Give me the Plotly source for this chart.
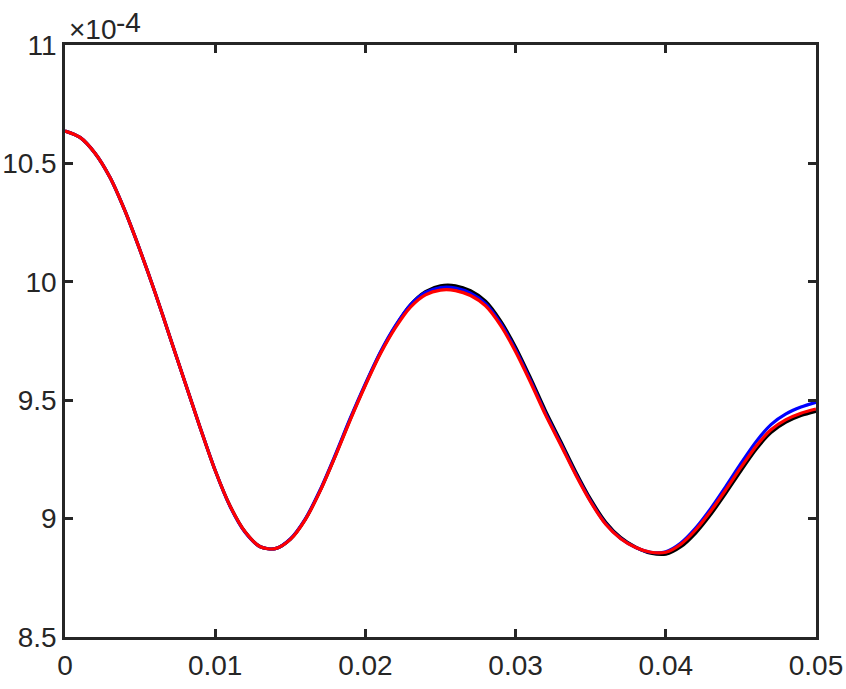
import plotly.graph_objects as go

# values are in units of 1e-4 (axis shows a x10^-4 multiplier)
x_vals = [i / 1000 for i in range(51)]  # 0 .. 0.05 step 0.001

black_vals = [10.637, 10.610, 10.543, 10.440, 10.298, 10.132, 9.954, 9.764, 9.574, 9.384,
              9.203, 9.052, 8.943, 8.881, 8.873, 8.913, 8.997, 9.120, 9.266, 9.421,
              9.566, 9.700, 9.812, 9.903, 9.959, 9.983, 9.983, 9.962, 9.918, 9.835,
              9.724, 9.593, 9.454, 9.327, 9.198, 9.081, 8.985, 8.920, 8.879, 8.854,
              8.850, 8.881, 8.940, 9.018, 9.108, 9.202, 9.292, 9.363, 9.407, 9.435,
              9.453]

blue_vals = [10.637, 10.610, 10.543, 10.440, 10.298, 10.132, 9.954, 9.764, 9.574, 9.384,
             9.203, 9.050, 8.941, 8.881, 8.873, 8.914, 8.999, 9.123, 9.270, 9.425,
             9.570, 9.704, 9.815, 9.903, 9.955, 9.976, 9.974, 9.952, 9.908, 9.825,
             9.713, 9.582, 9.443, 9.317, 9.189, 9.073, 8.978, 8.916, 8.878, 8.858,
             8.860, 8.897, 8.961, 9.043, 9.136, 9.233, 9.324, 9.397, 9.442, 9.471,
             9.491]

red_vals = [10.637, 10.610, 10.543, 10.440, 10.298, 10.132, 9.954, 9.764, 9.574, 9.384,
            9.203, 9.052, 8.943, 8.881, 8.873, 8.912, 8.996, 9.118, 9.264, 9.418,
            9.563, 9.696, 9.806, 9.893, 9.945, 9.965, 9.963, 9.942, 9.898, 9.816,
            9.705, 9.575, 9.437, 9.312, 9.185, 9.070, 8.976, 8.915, 8.878, 8.858,
            8.858, 8.892, 8.953, 9.032, 9.122, 9.216, 9.305, 9.375, 9.418, 9.445,
            9.463]

x_ticks = [0, 0.01, 0.02, 0.03, 0.04, 0.05]
x_labels = ["0", "0.01", "0.02", "0.03", "0.04", "0.05"]
y_ticks = [8.5, 9, 9.5, 10, 10.5, 11]
y_labels = ["8.5", "9", "9.5", "10", "10.5", "11"]

axis_color = "#262626"
font_family = "Liberation Sans, Arial, sans-serif"

fig = go.Figure()
for vals, color in [(black_vals, "#000000"), (blue_vals, "#0000ff"), (red_vals, "#ff0000")]:
    fig.add_trace(
        go.Scatter(
            x=x_vals,
            y=vals,
            mode="lines",
            line=dict(color=color, width=3.2, shape="spline", smoothing=0.8),
            showlegend=False,
        )
    )

axis_common = dict(
    showline=True,
    linecolor=axis_color,
    linewidth=2.5,
    mirror="ticks",
    ticks="inside",
    ticklen=8,
    tickwidth=2.5,
    tickcolor=axis_color,
    showgrid=False,
    zeroline=False,
    automargin=False,
    tickfont=dict(size=28, color=axis_color, family=font_family),
)

fig.update_xaxes(range=[0, 0.05], tickvals=x_ticks, ticktext=x_labels,
                 ticklabelstandoff=2, **axis_common)
fig.update_yaxes(range=[8.5, 11], tickvals=y_ticks, ticktext=y_labels,
                 ticklabelstandoff=0, **axis_common)

# exponent label drawn as MATLAB does: "x10" with a raised "-4"
fig.add_annotation(
    text="×10",
    xref="paper", yref="paper", x=0.0, y=1.0,
    xanchor="left", yanchor="middle",
    xshift=2, yshift=16,
    showarrow=False,
    font=dict(size=28, color=axis_color, family=font_family),
)
fig.add_annotation(
    text="-4",
    xref="paper", yref="paper", x=0.0, y=1.0,
    xanchor="left", yanchor="middle",
    xshift=49, yshift=23,
    showarrow=False,
    font=dict(size=28, color=axis_color, family=font_family),
)

fig.update_layout(
    width=846,
    height=689,
    margin=dict(l=65, r=30, t=45, b=52),
    plot_bgcolor="white",
    paper_bgcolor="white",
)

# drop the default body margin so the figure fills the window exactly
fig.write_html(
    "out.html",
    config={"displayModeBar": False},
    post_script="document.body.style.margin='0'; document.body.style.overflow='hidden';",
)
